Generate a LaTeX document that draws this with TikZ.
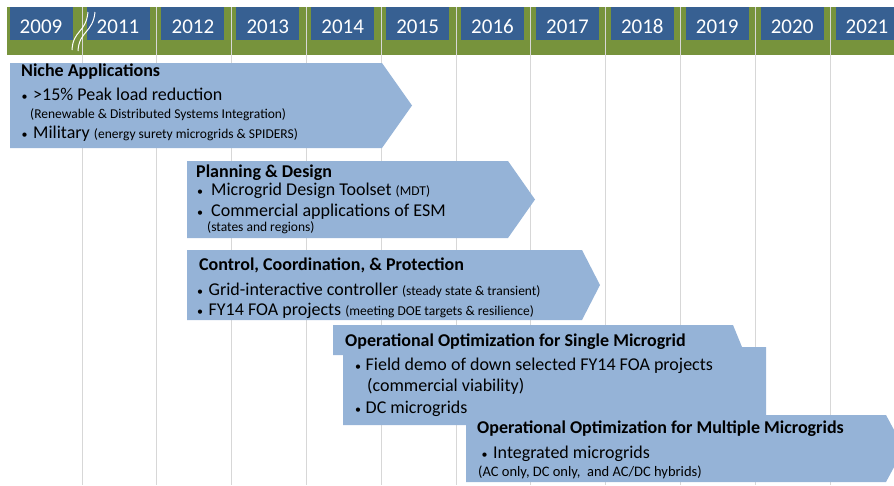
\documentclass[tikz,border=0pt]{standalone}
\usepackage{fontspec}
\setmainfont{Carlito}
\usetikzlibrary{positioning}
\definecolor{band}{RGB}{119,147,60}
\definecolor{yearblue}{RGB}{55,96,146}
\definecolor{phase}{RGB}{149,179,215}
\definecolor{gridln}{RGB}{215,215,215}
\tikzset{
  yearbox/.style={fill=yearblue,text=white,minimum width=63pt,minimum height=33pt,
    inner sep=0pt,text height=19pt,text depth=0pt,font=\fontsize{21}{21}\selectfont},
  ttl/.style={anchor=base west,inner sep=0pt,font=\fontsize{18}{18}\selectfont\bfseries},
  itm/.style={anchor=base west,inner sep=0pt,font=\fontsize{18}{18}\selectfont},
  sub/.style={anchor=base west,inner sep=0pt,font=\fontsize{13.5}{13.5}\selectfont},
  brk/.style={white,line width=1pt},
}
\newcommand{\sm}[1]{{\fontsize{13.5}{13.5}\selectfont #1}}
\newcommand{\bul}[1][11.5pt]{\makebox[#1][l]{\fontsize{12}{12}\selectfont\textbullet}}
% phase arrow: left, top, right, bottom, tip
\newcommand{\phasearrow}[5]{%
  \fill[phase] (#1,#2) -- (#3,#2) -- (#5,{(#2+#4)/2}) -- (#3,#4) -- (#1,#4) -- cycle;}

\begin{document}
\begin{tikzpicture}[x=1pt,y=-1pt]
\useasboundingbox (0,0) rectangle (894,485);
% timeline band and grid
\fill[band] (7,7) rectangle (900,55);
\foreach \k in {0,...,10}
  \draw[gridln,line width=1pt] ({82+74.8*\k},7) -- ({82+74.8*\k},485);
\node[yearbox] (y2009) at (41,23.5) {2009};
\foreach \yr [count=\i from 0] in {2011,2012,2013,2014,2015,2016,2017,2018,2019,2020,2021}
  \node[yearbox] (y\yr) at ({118+74.9*\i},23.5) {\yr};
% break mark
\draw[brk] (72,50) .. controls (73,30) and (86,33) .. (88,12);
\draw[brk] (78,51) .. controls (79,31) and (93,33) .. (95,12);

% niche applications
\phasearrow{10}{63}{382}{148}{412}
\node[ttl] (niche) at (21,76) {Niche Applications};
\node[itm] (peak) at (21.5,100.7) {\bul>15\% Peak load reduction};
\node[sub] (peaksub) at (30,118.3) {(Renewable \& Distributed Systems Integration)};
\node[itm] (mil) at (21.5,138.3) {\bul Military \sm{(energy surety microgrids \& SPIDERS)}};

% planning and design
\phasearrow{187}{161}{508}{238}{535}
\node[ttl] (plan) at (196,177.3) {Planning \& Design};
\node[itm] (mdt) at (197,195.7) {\bul[14pt]Microgrid Design Toolset \sm{(MDT)}};
\node[itm] (esm) at (197,216) {\bul[14pt]Commercial applications of ESM};
\node[sub] (esmsub) at (207,231.7) {(states and regions)};

% control, coordination and protection
\phasearrow{187}{250}{582}{320}{600}
\node[ttl] (ctrl) at (199,270.7) {Control, Coordination, \& Protection};
\node[itm] (gic) at (197,295) {\bul Grid-interactive controller \sm{(steady state \& transient)}};
\node[itm] (foa) at (197,315.7) {\bul FY14 FOA projects \sm{(meeting DOE targets \& resilience)}};

% single microgrid
\fill[phase] (333,325) -- (733,325) -- (742,347) -- (766,347) -- (766,425)
  -- (343,425) -- (343,355) -- (333,355) -- cycle;
\node[ttl] (single) at (345,346.7) {Operational Optimization for Single Microgrid};
\node[itm] (demo) at (355,370.7) {\bul[10.5pt]Field demo of down selected FY14 FOA projects};
\node[itm] (viab) at (367,391.7) {(commercial viability)};
\node[itm] (dcmg) at (355,413.3) {\bul[10.5pt]DC microgrids};

% multiple microgrids
\phasearrow{466}{415}{886}{482}{904}
\node[ttl] (multi) at (477,433.3) {Operational Optimization for Multiple Microgrids};
\node[itm] (integ) at (481.5,458.3) {\bul Integrated microgrids};
\node[sub,font=\fontsize{14.5}{14.5}\selectfont] (integsub) at (478,476)
  {(AC only, DC only,\ \ and AC/DC hybrids)};
\end{tikzpicture}
\end{document}
